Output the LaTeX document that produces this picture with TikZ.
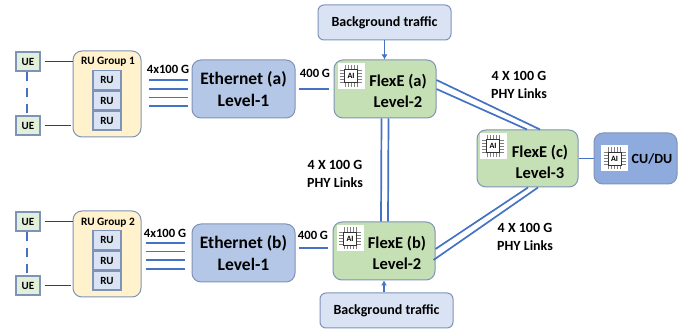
\documentclass[tikz,border=0pt]{standalone}
\usepackage{fontspec}
\setmainfont{Carlito}
\usetikzlibrary{arrows.meta}
\definecolor{linkblue}{HTML}{4472C4}
\definecolor{edgeblue}{HTML}{7F93B8}
\definecolor{uegreen}{HTML}{E2F0D9}
\definecolor{flexgreen}{HTML}{C5E0B4}
\definecolor{groupyellow}{HTML}{FFF2CC}
\definecolor{rublue}{HTML}{DAE3F3}
\definecolor{ethblue}{HTML}{B4C7E7}
\definecolor{cublue}{HTML}{8FAADC}
\tikzset{
	box/.style={draw=edgeblue, line width=1pt, rounded corners=9pt, inner sep=0pt, align=center},
	uebox/.style={draw=edgeblue, line width=1.2pt, fill=uegreen, minimum width=24pt, minimum height=19pt, inner sep=0pt, font=\bfseries\fontsize{11}{12}\selectfont},
	rubox/.style={draw=edgeblue, line width=1.2pt, fill=rublue, minimum width=28pt, minimum height=19pt, inner sep=0pt, font=\bfseries\fontsize{11}{12}\selectfont},
	groupbox/.style={box, fill=groupyellow, minimum width=68pt, minimum height=86pt},
	ethbox/.style={box, fill=ethblue, minimum width=103pt, minimum height=58pt, font=\bfseries\fontsize{17.5}{22}\selectfont},
	flexbox/.style={box, fill=flexgreen, minimum width=102pt, minimum height=58pt},
	trafficbox/.style={box, fill=rublue, minimum width=133pt, minimum height=35pt, rounded corners=6pt, font=\bfseries\fontsize{14}{15}\selectfont},
	flexlabel/.style={align=center, inner sep=0pt, font=\bfseries\fontsize{16.5}{21}\selectfont},
	linklabel/.style={align=center, inner sep=0pt, font=\bfseries\fontsize{14}{18}\selectfont},
	ratelabel/.style={inner sep=0pt, font=\bfseries\fontsize{12.6}{15}\selectfont},
	grouplabel/.style={inner sep=0pt, font=\bfseries\fontsize{11.3}{12}\selectfont},
	link/.style={draw=linkblue, line width=1.7pt},
	thinlink/.style={draw=linkblue, line width=1.3pt},
	wire/.style={draw=black!75, line width=1.5pt},
	ladder/.style={link, line width=2pt, dash pattern=on 9pt off 7pt},
	feed/.style={link, -{Latex[length=5pt,width=6pt]}},
	aiicon/.pic={
		\fill[white] (-13.5,-13) rectangle (13.5,13);
		\foreach \i in {-6,-3,0,3,6}{
			\draw[black!50, line width=0.5pt] (\i,-11) -- (\i,11);
			\draw[black!50, line width=0.5pt] (-11,\i) -- (11,\i);
		}
		\node[draw=black!80, fill=white, line width=0.9pt, minimum size=13pt, inner sep=0pt, font=\bfseries\fontsize{8}{9}\selectfont] {AI};
	}
}
\begin{document}
\begin{tikzpicture}[x=1pt, y=-1pt]
	\useasboundingbox (0,0) rectangle (681,331);

	% top branch
	\node[groupbox] (groupa) at (107,94) {};
	\node[grouplabel] (groupalabel) at (108,62) {RU Group 1};
	\node[rubox] (rua) at (107,80) {RU};
	\node[rubox] (rub) at (107,100.5) {RU};
	\node[rubox] (ruc) at (107,120.5) {RU};
	\node[uebox] (uea) at (28,61.5) {UE};
	\node[uebox] (ueb) at (28,125.5) {UE};
	\node[ethbox] (etha) at (243.5,89) {Ethernet (a)\\Level-1};
	\node[flexbox] (flexa) at (385,89) {};
	\node[flexlabel] (flexatext) at (398,91) {FlexE (a)\\Level-2};
	\node[trafficbox] (traffica) at (384.5,22.5) {Background traffic};
	\node[ratelabel] (ratea) at (168,69) {4x100 G};
	\node[ratelabel] (fata) at (315,73) {400 G};

	% bottom branch
	\node[groupbox] (groupb) at (107,254) {};
	\node[grouplabel] (groupblabel) at (108,222.5) {RU Group 2};
	\node[rubox] (rud) at (107,240) {RU};
	\node[rubox] (rue) at (107,260.5) {RU};
	\node[rubox] (ruf) at (107,280.5) {RU};
	\node[uebox] (uec) at (28,221.5) {UE};
	\node[uebox] (ued) at (28,285.5) {UE};
	\node[ethbox] (ethb) at (243.5,253) {Ethernet (b)\\Level-1};
	\node[flexbox] (flexb) at (384,251) {};
	\node[flexlabel] (flexbtext) at (397,253) {FlexE (b)\\Level-2};
	\node[trafficbox] (trafficb) at (386.5,310.5) {Background traffic};
	\node[ratelabel] (rateb) at (165,233) {4x100 G};
	\node[ratelabel] (fatb) at (313,235) {400 G};

	% right side
	\node[flexbox, minimum width=101pt, minimum height=57pt] (flexc) at (527.5,158.5) {};
	\node[flexlabel] (flexctext) at (540,162) {FlexE (c)\\Level-3};
	\node[box, fill=cublue, minimum width=83pt, minimum height=51pt] (cudu) at (635.5,158.5) {};
	\node[inner sep=0pt, font=\bfseries\fontsize{14}{16}\selectfont] (cudutext) at (652,159) {CU/DU};

	\node[linklabel] (phyac) at (519,85) {4 X 100 G\\PHY Links};
	\node[linklabel] (phyab) at (335,174) {4 X 100 G\\PHY Links};
	\node[linklabel] (phybc) at (525,236.5) {4 X 100 G\\PHY Links};

	\pic at (351,76) {aiicon};
	\pic at (350,238.5) {aiicon};
	\pic at (493,146) {aiicon};
	\pic at (614.5,158.5) {aiicon};

	% UE wires
	\draw[wire, shorten <=4pt] (uea.east) -- (groupa.west |- uea.east);
	\draw[wire, shorten <=4pt, shorten >=2pt] (ueb.east) -- (groupa.west |- ueb.east);
	\draw[wire, shorten <=4pt] (uec.east) -- (groupb.west |- uec.east);
	\draw[wire, shorten <=4pt, shorten >=2pt] (ued.east) -- (groupb.west |- ued.east);
	\draw[ladder] ([xshift=-1.5pt]uea.south) -- ([xshift=-1.5pt]ueb.north);
	\draw[ladder] ([xshift=-1.5pt]uec.south) -- ([xshift=-1.5pt]ued.north);

	% 4x100 G lines
	\foreach \y in {80,89,97.5,106}{
		\draw[thinlink, shorten <=7pt, shorten >=4pt] (groupa.east |- 0,\y) -- (etha.west |- 0,\y);
	}
	\foreach \y in {243,251.5,260,269}{
		\draw[thinlink, shorten <=4pt, shorten >=7pt] (groupb.east |- 0,\y) -- (ethb.west |- 0,\y);
	}

	% 400 G lines
	\draw[thinlink, shorten <=3pt, shorten >=5pt] (etha.east |- 0,89) -- (flexa.west |- 0,89);
	\draw[thinlink, shorten <=3pt, shorten >=5pt] (ethb.east |- 0,248) -- (flexb.west |- 0,248);

	% PHY links
	\draw[link] ([xshift=-3.5pt]flexa.south) -- ([xshift=-3pt]flexb.north);
	\draw[link] ([xshift=3.5pt]flexa.south) -- ([xshift=4pt]flexb.north);
	\draw[link] ([yshift=9pt]flexa.east) -- ([xshift=12.5pt]flexc.north);
	\draw[link] (flexa.east) -- ([xshift=-0.5pt]flexc.north);
	\draw[link] ([xshift=0.5pt]flexc.south) -- ([yshift=2pt]flexb.east);
	\draw[link] ([xshift=10.5pt]flexc.south) -- ([xshift=-2pt,yshift=-9pt]flexb.east);
	\draw[link] (flexc.east) -- (cudu.west);

	% background traffic
	\draw[feed] (traffica.south) -- (traffica.south |- flexa.north);
	\draw[feed] (flexb.south |- trafficb.north) -- (flexb.south);
\end{tikzpicture}
\end{document}
